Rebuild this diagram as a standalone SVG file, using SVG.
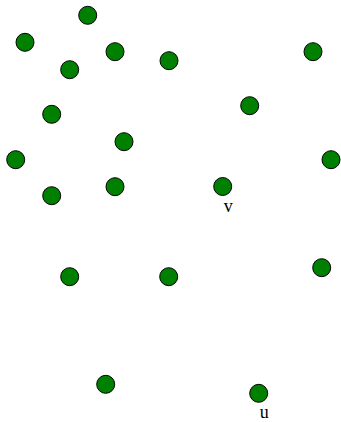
<svg xmlns="http://www.w3.org/2000/svg" width="341" height="422" viewBox="0 0 341 422">
<style>
.n{fill:#008000;stroke:#000;stroke-width:1}
.l{font-family:"Liberation Serif",serif;font-size:18px;fill:#000;text-anchor:middle}
</style>
<rect width="341" height="422" fill="#fff"/>
<g id="connectors"/>
<g id="n1"><circle class="n" cx="87.7" cy="15.3" r="9"/></g>
<g id="n2"><circle class="n" cx="25" cy="42.3" r="9"/></g>
<g id="n3"><circle class="n" cx="115" cy="51.7" r="9"/></g>
<g id="n4"><circle class="n" cx="169" cy="60.7" r="9"/></g>
<g id="n5"><circle class="n" cx="69.7" cy="69.7" r="9"/></g>
<g id="n6"><circle class="n" cx="51.7" cy="114.3" r="9"/></g>
<g id="n7"><circle class="n" cx="124" cy="141.7" r="9"/></g>
<g id="n8"><circle class="n" cx="15.7" cy="159.7" r="9"/></g>
<g id="n9"><circle class="n" cx="51.7" cy="195.7" r="9"/></g>
<g id="n10"><circle class="n" cx="115" cy="186.7" r="9"/></g>
<g id="n11"><circle class="n" cx="313" cy="51.7" r="9"/></g>
<g id="n12"><circle class="n" cx="249.7" cy="105.7" r="9"/></g>
<g id="n13"><circle class="n" cx="331" cy="159.7" r="9"/></g>
<g id="v"><circle class="n" cx="222.7" cy="186.5" r="9"/><text class="l" x="228.3" y="212">v</text></g>
<g id="n14"><circle class="n" cx="69.7" cy="276.7" r="9"/></g>
<g id="n15"><circle class="n" cx="168.7" cy="276.7" r="9"/></g>
<g id="n16"><circle class="n" cx="321.7" cy="267.7" r="9"/></g>
<g id="n17"><circle class="n" cx="105.7" cy="384.3" r="9"/></g>
<g id="u"><circle class="n" cx="258.7" cy="393.3" r="9"/><text class="l" x="264.3" y="417.5">u</text></g>
</svg>
